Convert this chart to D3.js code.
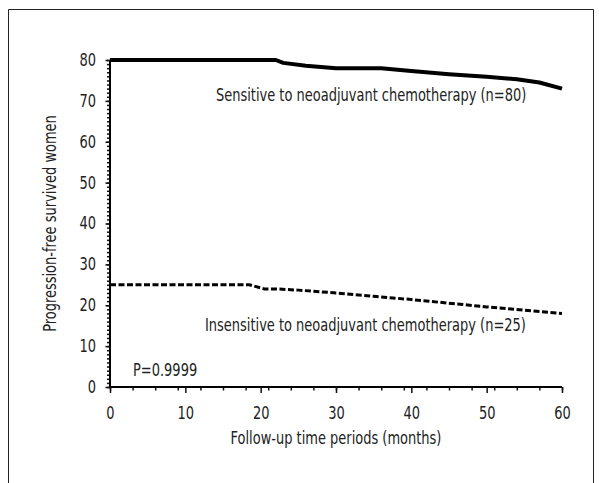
<!DOCTYPE html>
<html>
<head>
<meta charset="utf-8">
<script src="https://cdn.jsdelivr.net/npm/d3@7"></script>
<style>
  body { margin: 0; background: #fff; }
  svg text { font-family: "Liberation Sans Narrow", "DejaVu Sans Condensed", "Arial Narrow", sans-serif; fill: #222; }
</style>
</head>
<body>
<div id="chart"></div>
<script>
// Progression-free survival, two groups.
var MONTHS_SENS = [0, 22, 23, 26, 30, 36, 40, 45, 50, 54, 57, 60];
var VALUES_SENS = [80, 80, 79.3, 78.6, 78, 78, 77.3, 76.5, 75.9, 75.3, 74.5, 73];

var MONTHS_INS = [0, 18.5, 20.5, 22, 25, 30, 35, 40, 45, 50, 55, 60];
var VALUES_INS = [25, 25, 24, 24, 23.7, 23, 22.2, 21.4, 20.5, 19.6, 18.8, 18];

var X_TICKS = [0, 10, 20, 30, 40, 50, 60];
var Y_TICKS = [0, 10, 20, 30, 40, 50, 60, 70, 80];

var LABEL_SENS = 'Sensitive to neoadjuvant chemotherapy (n=80)';
var LABEL_INS = 'Insensitive to neoadjuvant chemotherapy (n=25)';
var P_TEXT = 'P=0.9999';
var X_TITLE = 'Follow-up time periods (months)';
var Y_TITLE = 'Progression-free survived women';

var WIDTH = 599;
var HEIGHT = 483;
var FONT = 17;
var SQUEEZE = 0.85;   // la fuente original es más estrecha

var svg = d3.select('#chart').append('svg')
            .attr('width', WIDTH)
            .attr('height', HEIGHT);

// marco de la figura (abierto por abajo)
svg.append('path')
   .attr('d', 'M8.5,' + HEIGHT + 'V9.5H593.5V' + HEIGHT)
   .attr('fill', 'none')
   .attr('stroke', '#222')
   .attr('stroke-width', 1);

var x = d3.scaleLinear().domain([0, 60]).range([110, 562]);
var y = d3.scaleLinear().domain([0, 80]).range([387, 60]);

// eje X: menores cada 3 meses, mayores cada 10
var gx = svg.append('g').attr('transform', 'translate(0,' + y(0) + ')');
gx.append('g')
  .call(d3.axisBottom(x).tickValues(d3.range(0, 61, 3)).tickSize(3.5).tickFormat(''))
  .call(g => g.select('.domain').remove());
gx.append('g')
  .call(d3.axisBottom(x).tickValues(X_TICKS).tickSize(6).tickPadding(14))
  .call(g => g.select('.domain').attr('stroke-width', 2).attr('d', 'M' + x(0) + ',0H' + x(60)))
  .call(g => g.selectAll('.tick text')
              .attr('font-size', FONT)
              .attr('fill', '#222')
              .attr('transform', 'scale(' + SQUEEZE + ',1)'));
gx.selectAll('line').attr('stroke', '#111').attr('stroke-width', 1.5);

// eje Y: menores cada 1, mayores cada 10
var gy = svg.append('g').attr('transform', 'translate(' + x(0) + ',0)');
gy.append('g')
  .call(d3.axisLeft(y).tickValues(d3.range(0, 81, 1)).tickSize(3).tickFormat(''))
  .call(g => g.select('.domain').remove());
gy.append('g')
  .call(d3.axisLeft(y).tickValues(Y_TICKS).tickSize(4.5).tickPadding(12))
  .call(g => g.select('.domain').attr('stroke-width', 2).attr('d', 'M0,' + y(0) + 'V' + y(80)))
  .call(g => g.selectAll('.tick text')
              .attr('font-size', FONT)
              .attr('fill', '#222')
              .attr('transform', 'scale(' + SQUEEZE + ',1)'));
gy.selectAll('line').attr('stroke', '#111').attr('stroke-width', 1.5);

var line = d3.line().x(d => x(d[0])).y(d => y(d[1]));

svg.append('path')
   .datum(d3.zip(MONTHS_SENS, VALUES_SENS))
   .attr('d', line)
   .attr('fill', 'none')
   .attr('stroke', '#000')
   .attr('stroke-width', 4)
   .attr('stroke-linejoin', 'round');

svg.append('path')
   .datum(d3.zip(MONTHS_INS, VALUES_INS))
   .attr('d', line)
   .attr('fill', 'none')
   .attr('stroke', '#000')
   .attr('stroke-width', 3)
   .attr('stroke-dasharray', '6,2.5');

// textos, estrechados en horizontal
function label(px, py, str, anchor, rot) {
    return svg.append('text')
              .attr('transform', 'translate(' + px + ',' + py + ')' +
                    (rot ? ' rotate(' + rot + ')' : '') +
                    ' scale(' + SQUEEZE + ',1)')
              .attr('text-anchor', anchor || 'start')
              .attr('font-size', FONT)
              .text(str);
}

label(216, 101, LABEL_SENS);
label(205, 331, LABEL_INS);
label(133, 376, P_TEXT);
label((x(0) + x(60)) / 2, 444, X_TITLE, 'middle');
label(56, (y(0) + y(80)) / 2, Y_TITLE, 'middle', -90);
</script>
</body>
</html>
